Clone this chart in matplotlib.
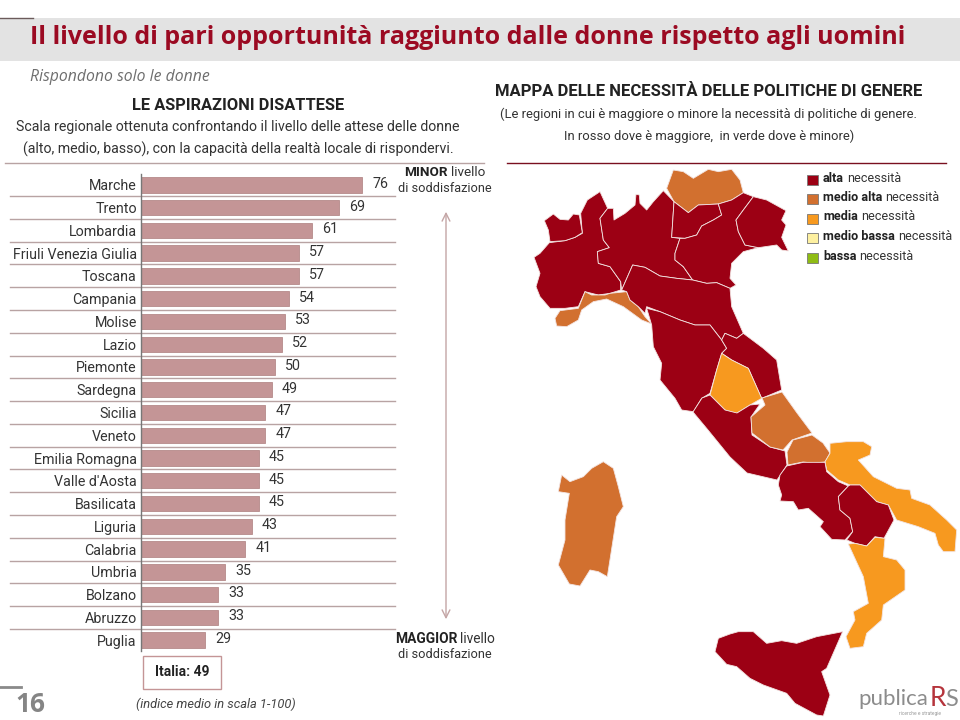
import matplotlib
matplotlib.use('Agg')
import matplotlib.pyplot as plt
from matplotlib import font_manager as fm
from matplotlib.patches import Polygon, Rectangle

names = {f.name for f in fm.fontManager.ttflist}
BODY = 'Liberation Sans Narrow' if 'Liberation Sans Narrow' in names else 'Roboto'

regions = ['Marche','Trento','Lombardia','Friuli Venezia Giulia','Toscana','Campania','Molise','Lazio',
           'Piemonte','Sardegna','Sicilia','Veneto','Emilia Romagna',"Valle d'Aosta",'Basilicata','Liguria',
           'Calabria','Umbria','Bolzano','Abruzzo','Puglia']
values = [76,69,61,57,57,54,53,52,50,49,47,47,45,45,45,43,41,35,33,33,29]

legend_bold = ['alta','medio alta','media','medio bassa','bassa']
legend_colors = ['#9c0014','#d2702f','#f7991f','#fdf0a0','#8fbc14']
ALTA, MALTA, MEDIA = legend_colors[:3]

def z2(pts): return [(510+x/3,150+y/3) for x,y in pts]
def z3(pts): return [(530+x/3,430+y/3) for x,y in pts]

map_shapes = [
 (ALTA, z2([(72,322),(90,310),(118,278),(165,272),(195,262),(217,250),(212,190),(232,150),(270,125),(293,175),(270,205),(280,270),(298,293),(262,305),(265,340),(300,350),(332,395),(332,420),(300,430),(265,435),(225,425),(205,470),(165,475),(120,475),(90,440),(78,410),(90,370)])),
 (ALTA, z2([(103,212),(130,192),(150,208),(175,210),(190,192),(208,195),(217,248),(195,262),(165,272),(120,275),(115,240)])),
 (ALTA, z2([(293,175),(310,175),(312,210),(345,190),(375,165),(378,133),(388,135),(390,160),(410,180),(430,155),(460,122),(492,155),(485,262),(510,265),(495,310),(495,330),(520,350),(548,390),(500,385),(450,378),(405,352),(368,345),(335,420),(332,395),(300,350),(265,340),(262,305),(298,293),(280,270),(270,205)])),
 (MALTA, z2([(470,115),(490,60),(520,65),(550,85),(595,58),(625,65),(665,58),(690,90),(700,128),(665,150),(625,162),(565,165),(535,188),(492,155)])),
 (ALTA, z2([(492,155),(535,188),(565,165),(625,162),(635,195),(610,210),(575,228),(560,255),(525,265),(485,262)])),
 (ALTA, z2([(625,162),(665,150),(700,128),(730,140),(700,180),(678,210),(685,245),(705,285),(745,293),(700,305),(665,340),(660,385),(678,405),(660,415),(620,398),(590,400),(548,390),(520,350),(495,330),(495,310),(510,265),(525,265),(560,255),(575,228),(610,210),(635,195)])),
 (ALTA, z2([(730,140),(770,150),(828,182),(815,210),(828,225),(815,262),(835,303),(815,300),(800,285),(745,293),(705,285),(685,245),(678,210),(700,180)])),
 (MALTA, z2([(135,505),(150,482),(205,475),(225,425),(245,435),(285,435),(300,430),(350,425),(360,450),(385,470),(405,500),(425,522),(395,510),(340,470),(290,447),(250,455),(215,480),(205,510),(170,530),(140,528)])),
 (ALTA, z2([(368,345),(405,352),(450,378),(500,385),(548,390),(590,400),(620,398),(660,415),(665,470),(700,550),(680,565),(645,550),(635,570),(600,525),(555,525),(510,510),(450,485),(410,470),(405,490),(385,470),(360,450),(350,425),(335,420)])),
 (ALTA, z2([(410,475),(450,485),(510,510),(555,525),(600,525),(635,570),(650,595),(635,610),(620,660),(600,730),(575,745),(550,785),(515,780),(495,745),(450,690),(455,640),(430,590),(425,525)])),
 (ALTA, z2([(635,570),(645,550),(680,565),(700,550),(760,595),(800,630),(815,720),(755,745),(715,655),(665,630),(635,610),(650,595)])),
 (MEDIA, z2([(635,610),(665,630),(715,655),(755,745),(720,765),(680,790),(645,780),(600,735),(620,660)])),
 (ALTA, [(710,395),(702,398),(693,412),(708,430),(730,457),(747,473),(777,480),(787,465),(785,451),(770,447),(752,435),(751,417),(760,404),(750,405),(737,413),(725,410)]),
 (MALTA, [(762,398),(782,392),(797,413),(812,433),(792,440),(783,450),(770,447),(752,433),(751,417),(765,405)]),
 (MALTA, [(812,435),(823,443),(830,453),(825,462),(813,463),(803,462),(788,465),(787,452),(793,440)]),
 (MEDIA, z3([(900,40),(950,35),(1000,35),(1025,50),(1020,75),(985,90),(1030,140),(1100,175),(1140,180),(1145,205),(1200,225),(1250,270),(1280,300),(1275,365),(1240,365),(1225,345),(1215,310),(1165,290),(1100,270),(1075,225),(1040,215),(990,165),(960,165),(925,150),(890,120),(885,95),(900,70)])),
 (ALTA, z3([(770,108),(820,97),(885,97),(890,125),(925,155),(955,168),(925,200),(930,240),(960,265),(968,305),(945,330),(905,328),(870,290),(880,275),(835,235),(805,240),(790,215),(750,213),(755,195),(745,165),(750,135)])),
 (ALTA, z3([(960,165),(990,165),(1040,215),(1075,225),(1092,270),(1062,325),(1035,320),(1010,348),(975,340),(950,330),(968,305),(960,265),(930,240),(925,200),(955,168)])),
 (MEDIA, z3([(955,342),(975,340),(1010,348),(1035,322),(1065,325),(1060,380),(1100,390),(1125,420),(1125,480),(1060,525),(1055,570),(1010,610),(1000,650),(960,655),(948,620),(975,570),(970,545),(1015,520),(1000,440)])),
 (ALTA, z3([(555,665),(565,625),(600,612),(625,605),(670,605),(710,640),(755,632),(800,640),(860,620),(938,605),(890,715),(875,725),(900,795),(880,858),(860,855),(795,820),(770,790),(700,765),(660,745),(620,710),(590,703)])),
 (MALTA, z3([(85,185),(95,135),(120,155),(160,140),(185,115),(220,95),(250,115),(265,170),(280,230),(260,260),(232,440),(205,425),(180,420),(150,468),(118,462),(85,405),(105,330),(105,270),(118,190)])),
]

plt.rcParams['font.family'] = [BODY, 'DejaVu Sans']
fig = plt.figure(figsize=(9.6, 7.2), dpi=100, facecolor='white')

ov = fig.add_axes([0, 0, 1, 1], zorder=0)
ov.set_xlim(0, 960); ov.set_ylim(720, 0); ov.axis('off')

RULE = '#b8a3a3'; TXT = '#333333'; DARK = '#7a1020'
# header
ov.add_patch(Rectangle((0, 18), 960, 43, fc='#e3e3e3', ec='none'))
ov.plot([0, 33], [18, 18], color='#6b5b5b', lw=1)
ov.plot([0, 21], [687, 687], color='#8a8a8a', lw=2)
ov.text(30, 38, 'Il livello di pari opportunità raggiunto dalle donne rispetto agli uomini',
        family='Open Sans', weight='bold', fontsize=18.0, color='#9b0a22', va='center', ha='left')
ov.text(30, 77, 'Rispondono solo le donne', family='Open Sans', style='italic', fontsize=11.3, color='#6e6e6e', va='center')
ov.text(30, 705, '16', family='Open Sans', weight='bold', fontsize=19, color='#858585', va='center', ha='center')

# left heading
ov.text(238, 105, 'LE ASPIRAZIONI DISATTESE', weight='bold', fontsize=11.8, color='#222222', ha='center', va='center')
ov.text(238, 127, 'Scala regionale ottenuta confrontando il livello delle attese delle donne', fontsize=10.15, color=TXT, ha='center', va='center')
ov.text(238, 149, '(alto, medio, basso), con la capacità della realtà locale di rispondervi.', fontsize=10.15, color=TXT, ha='center', va='center')
ov.plot([5, 484], [162.5, 162.5], color=RULE, lw=1)

# bar separators
for i in range(len(regions) - 1):
    y = 196 + i * (629 - 196) / 19
    ov.plot([10, 395], [y, y], color=RULE, lw=1)

# bars: the reference's axis is not zero-based, the baseline sits near 10
BL, BW, BT, BH = 141, 291.4, 173.6, 477.8
ax = fig.add_axes([BL/960, 1 - (BT+BH)/720, BW/960, BH/720], zorder=1)
ax.patch.set_alpha(0)
ax.barh(range(len(values)), values, height=0.68, color='#c49596', edgecolor='#b58a8a', linewidth=0.6)
ax.set_xlim(9.9, 9.9 + 291.4 / 3.35)
ax.set_ylim(len(values) - 0.5, -0.5)
ax.set_xticks([])
ax.set_yticks(range(len(values)))
ax.set_yticklabels(regions, fontsize=10.3, color=TXT)
ax.tick_params(axis='y', length=0, pad=3)
for s in ['top', 'right', 'bottom']:
    ax.spines[s].set_visible(False)
ax.spines['left'].set_color('#777777'); ax.spines['left'].set_linewidth(1)
for i, v in enumerate(values):
    ax.annotate(str(v), (v, i), xytext=(13, 0.8), textcoords='offset points', fontsize=10.3, color=TXT,
                va='center', ha='center')

# side notes
def mixed(x, y, bold, rest, size, center=False):
    """bold run followed by a regular run"""
    r = fig.canvas.get_renderer()
    t = ov.text(x, y, bold, weight='bold', fontsize=size, color='#222222', va='center', ha='left')
    w = t.get_window_extent(r).width
    u = ov.text(x + w + 3, y, rest, fontsize=size, color=TXT, va='center', ha='left')
    if center:
        w2 = u.get_window_extent(r).x1 - t.get_window_extent(r).x0
        t.set_x(x - w2/2); u.set_x(x - w2/2 + w + 3)

mixed(445, 173, 'MINOR', 'livello', 9.7, center=True)
ov.text(445, 188, 'di soddisfazione', fontsize=9.2, color=TXT, ha='center', va='center')
mixed(445, 639, 'MAGGIOR', 'livello', 9.9, center=True)
ov.text(445, 654, 'di soddisfazione', fontsize=9.2, color=TXT, ha='center', va='center')
ov.annotate('', xy=(446, 209), xytext=(446, 622),
            arrowprops=dict(arrowstyle='<->', color='#c4a5a5', lw=1, mutation_scale=14))

ov.add_patch(Rectangle((143, 656), 78, 32.5, fc='white', ec='#c49596', lw=1))
ov.text(182, 672, 'Italia: 49', weight='bold', fontsize=10, color='#222222', ha='center', va='center')
ov.text(216, 704, '(indice medio in scala 1-100)', style='italic', fontsize=9.3, color='#444444', ha='center', va='center')

# right heading
ov.text(709, 92, 'MAPPA DELLE NECESSITÀ DELLE POLITICHE DI GENERE', weight='bold', fontsize=12.0, color='#222222', ha='center', va='center')
ov.text(708, 114, '(Le regioni in cui è maggiore o minore la necessità di politiche di genere.', fontsize=9.4, color=TXT, ha='center', va='center')
ov.text(709, 136, 'In rosso dove è maggiore,  in verde dove è minore)', fontsize=9.4, color=TXT, ha='center', va='center')
ov.plot([507, 946], [162.5, 162.5], color=DARK, lw=1)

# map
for color, pts in map_shapes:
    ov.add_patch(Polygon(pts, closed=True, fc=color, ec='#f3e4e2', lw=0.6, joinstyle='round'))

# legend
for i, (b, c) in enumerate(zip(legend_bold, legend_colors)):
    y = 179.5 + i * 19.5
    ov.add_patch(Rectangle((807, y - 5), 11, 10, fc=c, ec='#777777', lw=0.6))
    mixed(823, y - 1.5, b, 'necessità', 9.05)

# logo
ov.text(858, 699, 'publica', family='Lato', fontsize=16, color='#8c8c8c', va='center', ha='left')
ov.text(930, 698, 'R', family='Lato', fontsize=19, color='#b5343c', va='center', ha='left')
ov.text(945, 699, 'S', family='Lato', fontsize=17, color='#8c8c8c', va='center', ha='left')
ov.text(920, 714, 'ricerche e strategie', fontsize=3.5, color='#999999', va='center', ha='center')

fig.savefig('out.png', dpi=100)
